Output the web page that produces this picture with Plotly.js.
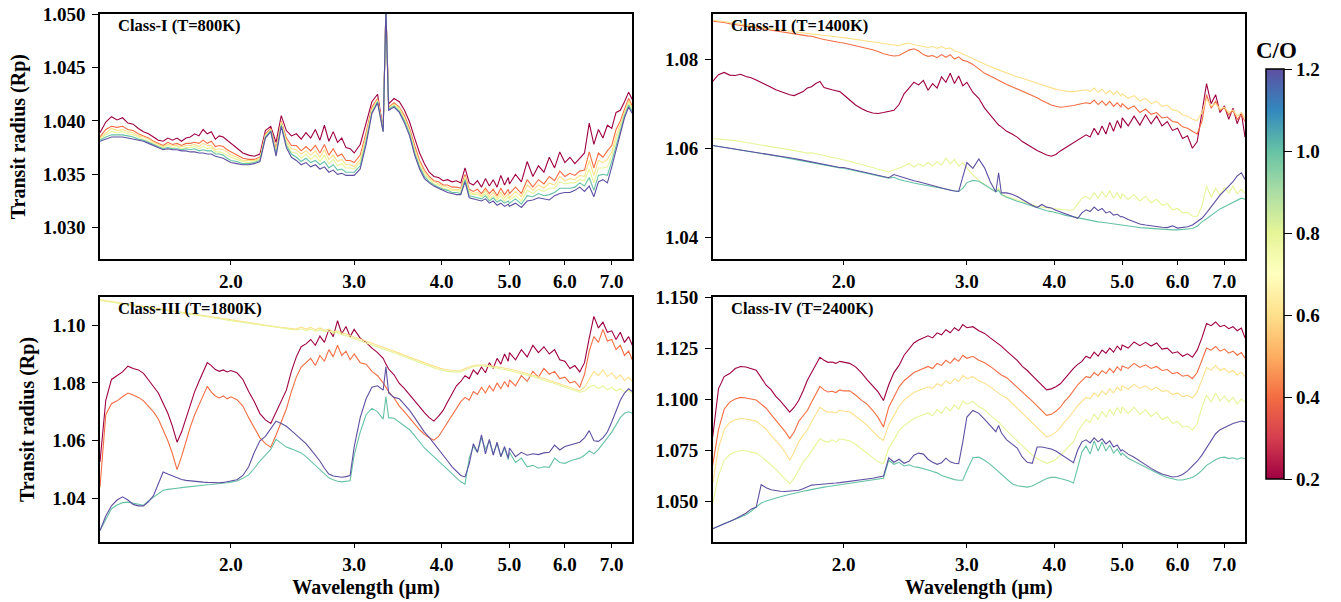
<!DOCTYPE html>
<html><head><meta charset="utf-8">
<script src="https://cdn.plot.ly/plotly-3.0.1.min.js"></script>
<style>html,body{margin:0;padding:0;background:#fff}#chart{width:1341px;height:602px}</style>
</head><body><div id="chart"></div>
<script>
// ---------------- data ----------------
const WAVELENGTH = [1.300,1.325,1.350,1.375,1.400,1.425,1.450,1.475,1.500,1.525,1.550,1.575,1.600,1.625,1.650,1.675,1.700,1.725,1.750,1.775,1.800,1.825,1.850,1.875,1.900,1.925,1.950,1.975,
 2.00,2.04,2.08,2.12,2.16,2.20,2.24,2.28,2.32,2.36,2.40,2.44,2.48,2.52,2.56,2.60,2.64,2.68,2.72,2.76,2.80,2.84,2.88,2.92,2.96,
 3.00,3.06,3.12,3.18,3.24,3.30,3.33,3.36,3.42,3.48,3.54,3.60,3.66,3.72,3.78,3.84,3.90,3.96,4.02,4.08,4.14,4.20,4.26,4.32,4.38,4.44,4.50,4.56,4.62,4.68,4.74,4.80,4.86,4.92,4.98,
 5.0,5.1,5.2,5.3,5.4,5.5,5.6,5.7,5.8,5.9,6.0,6.1,6.2,6.3,6.4,6.5,6.6,6.7,6.8,6.9,7.0,7.1,7.2,7.3,7.4,7.49];

const CO_RATIOS = [0.2, 0.4, 0.6, 0.8, 1.0, 1.2];
const CO_TICK_TEXT = ['0.2','0.4','0.6','0.8','1.0','1.2'];
const CO_COLORS = ['#9e0142','#f46d43','#fee08b','#e6f598','#66c2a5','#5e4fa2'];
const PANEL_TITLES = ['Class-I (T=800K)','Class-II (T=1400K)','Class-III (T=1800K)','Class-IV (T=2400K)'];
const WL_TICKS = [2, 3, 4, 5, 6, 7];
const WL_TICK_TEXT = ['2.0','3.0','4.0','5.0','6.0','7.0'];

// ---- Class-I (T=800K) ----
const C1_CO02 = [1.0389,1.0399,1.0404,1.0401,1.0403,1.0398,1.0397,1.0393,1.0390,1.0388,1.0385,1.0382,1.0381,1.0384,1.0382,1.0384,1.0381,1.0384,1.0385,1.0388,1.0386,1.0392,1.0388,1.0390,1.0383,1.0386,1.0385,1.0382,
 1.0379,1.0374,1.0370,1.0368,1.0367,1.0369,1.0391,1.0395,1.0380,1.0405,1.0391,1.0386,1.0388,1.0383,1.0389,1.0384,1.0392,1.0382,1.0396,1.0381,1.0390,1.0380,1.0384,1.0375,1.0374,
 1.0370,1.0378,1.0398,1.0418,1.0425,1.0392,1.0505,1.0416,1.0421,1.0418,1.0410,1.0399,1.0384,1.0370,1.0360,1.0352,1.0348,1.0347,1.0344,1.0345,1.0343,1.0344,1.0342,1.0356,1.0342,1.0340,1.0344,1.0338,1.0346,1.0339,1.0345,1.0338,1.0349,1.0340,1.0347,
 1.0341,1.0350,1.0343,1.0362,1.0348,1.0358,1.0352,1.0366,1.0356,1.0371,1.0361,1.0366,1.0360,1.0365,1.0370,1.0398,1.0378,1.0392,1.0384,1.0396,1.0393,1.0408,1.0410,1.0418,1.0427,1.0420];
const C1_CO04 = [1.0385,1.0392,1.0395,1.0394,1.0395,1.0392,1.0391,1.0388,1.0386,1.0384,1.0381,1.0379,1.0377,1.0380,1.0378,1.0379,1.0377,1.0379,1.0379,1.0380,1.0379,1.0382,1.0379,1.0381,1.0376,1.0377,1.0376,1.0373,
 1.0371,1.0368,1.0365,1.0364,1.0364,1.0366,1.0388,1.0393,1.0374,1.0400,1.0384,1.0377,1.0377,1.0372,1.0376,1.0372,1.0377,1.0370,1.0378,1.0368,1.0374,1.0367,1.0369,1.0363,1.0363,
 1.0361,1.0368,1.0389,1.0413,1.0421,1.0391,1.0505,1.0413,1.0417,1.0413,1.0405,1.0393,1.0377,1.0363,1.0354,1.0348,1.0344,1.0343,1.0340,1.0340,1.0338,1.0338,1.0337,1.0350,1.0336,1.0334,1.0336,1.0332,1.0337,1.0332,1.0336,1.0330,1.0337,1.0331,1.0336,
 1.0332,1.0338,1.0332,1.0345,1.0338,1.0345,1.0341,1.0348,1.0344,1.0353,1.0348,1.0351,1.0349,1.0353,1.0354,1.0371,1.0356,1.0370,1.0366,1.0372,1.0377,1.0392,1.0400,1.0411,1.0421,1.0414];
const C1_CO06 = [1.0384,1.0389,1.0393,1.0391,1.0392,1.0390,1.0389,1.0386,1.0385,1.0383,1.0380,1.0378,1.0376,1.0378,1.0377,1.0377,1.0376,1.0377,1.0377,1.0378,1.0376,1.0379,1.0377,1.0377,1.0373,1.0374,1.0373,1.0371,
 1.0368,1.0366,1.0363,1.0363,1.0363,1.0365,1.0387,1.0392,1.0372,1.0399,1.0381,1.0374,1.0373,1.0369,1.0372,1.0368,1.0372,1.0366,1.0373,1.0364,1.0368,1.0362,1.0364,1.0359,1.0359,
 1.0357,1.0364,1.0386,1.0411,1.0420,1.0391,1.0505,1.0412,1.0416,1.0412,1.0403,1.0391,1.0374,1.0361,1.0352,1.0346,1.0343,1.0341,1.0339,1.0338,1.0336,1.0336,1.0335,1.0348,1.0334,1.0332,1.0333,1.0330,1.0335,1.0329,1.0333,1.0328,1.0333,1.0328,1.0332,
 1.0328,1.0334,1.0329,1.0340,1.0335,1.0340,1.0337,1.0342,1.0340,1.0348,1.0344,1.0346,1.0345,1.0349,1.0348,1.0363,1.0349,1.0363,1.0361,1.0364,1.0371,1.0386,1.0397,1.0409,1.0419,1.0412];
const C1_CO08 = [1.0383,1.0387,1.0390,1.0389,1.0390,1.0388,1.0387,1.0385,1.0383,1.0381,1.0379,1.0377,1.0375,1.0377,1.0375,1.0376,1.0374,1.0375,1.0375,1.0376,1.0374,1.0376,1.0374,1.0375,1.0371,1.0371,1.0370,1.0368,
 1.0366,1.0364,1.0362,1.0361,1.0362,1.0364,1.0386,1.0391,1.0370,1.0398,1.0379,1.0371,1.0370,1.0365,1.0369,1.0364,1.0368,1.0362,1.0368,1.0360,1.0364,1.0358,1.0360,1.0356,1.0356,
 1.0355,1.0361,1.0383,1.0410,1.0419,1.0391,1.0505,1.0412,1.0415,1.0411,1.0401,1.0390,1.0372,1.0359,1.0350,1.0345,1.0341,1.0340,1.0337,1.0336,1.0335,1.0335,1.0334,1.0347,1.0332,1.0331,1.0331,1.0329,1.0332,1.0327,1.0330,1.0326,1.0330,1.0325,1.0329,
 1.0326,1.0330,1.0325,1.0335,1.0332,1.0336,1.0334,1.0337,1.0337,1.0343,1.0341,1.0342,1.0342,1.0345,1.0344,1.0355,1.0342,1.0356,1.0356,1.0357,1.0367,1.0382,1.0394,1.0407,1.0417,1.0411];
const C1_CO10 = [1.0382,1.0385,1.0387,1.0387,1.0387,1.0386,1.0385,1.0383,1.0382,1.0380,1.0378,1.0376,1.0374,1.0375,1.0374,1.0374,1.0373,1.0374,1.0373,1.0374,1.0372,1.0373,1.0372,1.0372,1.0369,1.0369,1.0368,1.0365,
 1.0363,1.0362,1.0360,1.0360,1.0361,1.0363,1.0385,1.0391,1.0369,1.0396,1.0377,1.0369,1.0366,1.0362,1.0365,1.0361,1.0363,1.0359,1.0362,1.0356,1.0359,1.0354,1.0355,1.0352,1.0352,
 1.0352,1.0358,1.0381,1.0408,1.0418,1.0390,1.0505,1.0411,1.0414,1.0409,1.0400,1.0388,1.0370,1.0357,1.0348,1.0343,1.0340,1.0338,1.0336,1.0335,1.0333,1.0333,1.0332,1.0345,1.0330,1.0329,1.0328,1.0327,1.0330,1.0325,1.0328,1.0324,1.0326,1.0323,1.0325,
 1.0323,1.0327,1.0322,1.0330,1.0329,1.0332,1.0330,1.0331,1.0333,1.0337,1.0337,1.0337,1.0338,1.0342,1.0339,1.0347,1.0335,1.0349,1.0350,1.0349,1.0362,1.0377,1.0391,1.0405,1.0415,1.0409];
const C1_CO12 = [1.0381,1.0383,1.0385,1.0385,1.0385,1.0384,1.0383,1.0382,1.0381,1.0379,1.0377,1.0375,1.0373,1.0374,1.0373,1.0373,1.0372,1.0372,1.0371,1.0371,1.0370,1.0370,1.0369,1.0369,1.0367,1.0366,1.0365,1.0363,
 1.0361,1.0360,1.0359,1.0359,1.0360,1.0362,1.0384,1.0390,1.0367,1.0395,1.0375,1.0366,1.0363,1.0359,1.0361,1.0357,1.0359,1.0355,1.0357,1.0352,1.0354,1.0350,1.0351,1.0349,1.0349,
 1.0349,1.0355,1.0378,1.0407,1.0417,1.0390,1.0505,1.0410,1.0413,1.0408,1.0398,1.0386,1.0368,1.0355,1.0346,1.0342,1.0339,1.0337,1.0335,1.0333,1.0332,1.0331,1.0331,1.0343,1.0328,1.0327,1.0326,1.0325,1.0327,1.0323,1.0325,1.0321,1.0323,1.0320,1.0322,
 1.0320,1.0323,1.0319,1.0325,1.0326,1.0328,1.0327,1.0326,1.0330,1.0332,1.0333,1.0333,1.0335,1.0338,1.0334,1.0339,1.0329,1.0343,1.0345,1.0342,1.0357,1.0372,1.0388,1.0403,1.0413,1.0407];

// ---- Class-II (T=1400K) ----
const C2_CO02 = [1.0750,1.0765,1.0770,1.0764,1.0763,1.0766,1.0761,1.0758,1.0753,1.0748,1.0742,1.0737,1.0731,1.0727,1.0723,1.0720,1.0718,1.0722,1.0727,1.0735,1.0738,1.0745,1.0750,1.0736,1.0733,1.0731,1.0729,1.0727,
 1.0720,1.0708,1.0697,1.0689,1.0683,1.0679,1.0678,1.0680,1.0682,1.0685,1.0698,1.0722,1.0735,1.0748,1.0742,1.0752,1.0730,1.0745,1.0735,1.0760,1.0748,1.0768,1.0745,1.0762,1.0740,
 1.0748,1.0725,1.0712,1.0690,1.0675,1.0660,1.0652,1.0648,1.0638,1.0632,1.0625,1.0615,1.0608,1.0601,1.0595,1.0590,1.0585,1.0582,1.0586,1.0594,1.0600,1.0607,1.0612,1.0618,1.0624,1.0630,1.0625,1.0645,1.0630,1.0650,1.0632,1.0658,1.0638,1.0662,1.0645,
 1.0668,1.0650,1.0672,1.0652,1.0675,1.0655,1.0672,1.0650,1.0660,1.0640,1.0645,1.0622,1.0628,1.0600,1.0615,1.0680,1.0745,1.0700,1.0720,1.0680,1.0695,1.0665,1.0690,1.0655,1.0680,1.0625];
const C2_CO04 = [1.0885,1.0884,1.0882,1.0879,1.0877,1.0875,1.0873,1.0872,1.0870,1.0868,1.0866,1.0864,1.0862,1.0861,1.0859,1.0858,1.0856,1.0855,1.0853,1.0852,1.0851,1.0848,1.0846,1.0844,1.0842,1.0840,1.0839,1.0837,
 1.0836,1.0833,1.0830,1.0827,1.0824,1.0821,1.0817,1.0812,1.0809,1.0807,1.0808,1.0815,1.0820,1.0823,1.0818,1.0810,1.0806,1.0808,1.0803,1.0810,1.0804,1.0810,1.0800,1.0805,1.0797,
 1.0795,1.0788,1.0778,1.0768,1.0762,1.0755,1.0752,1.0750,1.0743,1.0738,1.0733,1.0727,1.0722,1.0718,1.0713,1.0707,1.0701,1.0697,1.0694,1.0692,1.0693,1.0694,1.0696,1.0698,1.0700,1.0702,1.0700,1.0708,1.0698,1.0706,1.0696,1.0705,1.0694,1.0702,1.0692,
 1.0700,1.0688,1.0695,1.0680,1.0688,1.0676,1.0680,1.0668,1.0670,1.0660,1.0658,1.0648,1.0645,1.0638,1.0632,1.0660,1.0720,1.0690,1.0705,1.0685,1.0690,1.0675,1.0685,1.0665,1.0675,1.0660];
const C2_CO06 = [1.0887,1.0886,1.0884,1.0882,1.0880,1.0878,1.0877,1.0875,1.0873,1.0872,1.0870,1.0868,1.0867,1.0866,1.0864,1.0863,1.0861,1.0860,1.0859,1.0858,1.0857,1.0856,1.0855,1.0853,1.0852,1.0851,1.0850,1.0849,
 1.0848,1.0846,1.0844,1.0842,1.0840,1.0838,1.0836,1.0834,1.0832,1.0831,1.0830,1.0834,1.0836,1.0832,1.0830,1.0828,1.0826,1.0828,1.0824,1.0828,1.0823,1.0825,1.0818,1.0816,1.0812,
 1.0808,1.0802,1.0795,1.0789,1.0783,1.0778,1.0775,1.0773,1.0768,1.0764,1.0760,1.0757,1.0753,1.0749,1.0746,1.0742,1.0738,1.0735,1.0732,1.0730,1.0728,1.0727,1.0727,1.0728,1.0729,1.0731,1.0727,1.0735,1.0725,1.0733,1.0722,1.0730,1.0720,1.0728,1.0717,
 1.0722,1.0712,1.0718,1.0706,1.0712,1.0700,1.0705,1.0694,1.0697,1.0686,1.0684,1.0675,1.0672,1.0665,1.0662,1.0680,1.0710,1.0695,1.0700,1.0688,1.0692,1.0680,1.0686,1.0672,1.0680,1.0668];
const C2_CO08 = [1.0622,1.0621,1.0619,1.0618,1.0617,1.0615,1.0613,1.0611,1.0610,1.0608,1.0606,1.0605,1.0603,1.0601,1.0599,1.0597,1.0595,1.0593,1.0591,1.0589,1.0590,1.0588,1.0585,1.0583,1.0581,1.0579,1.0577,1.0576,
 1.0574,1.0571,1.0567,1.0564,1.0560,1.0557,1.0553,1.0550,1.0547,1.0552,1.0555,1.0560,1.0566,1.0558,1.0565,1.0560,1.0568,1.0560,1.0570,1.0562,1.0578,1.0565,1.0575,1.0560,1.0568,
 1.0556,1.0540,1.0528,1.0518,1.0510,1.0502,1.0510,1.0498,1.0492,1.0488,1.0484,1.0480,1.0476,1.0473,1.0470,1.0468,1.0466,1.0465,1.0464,1.0463,1.0462,1.0461,1.0462,1.0475,1.0488,1.0492,1.0485,1.0500,1.0488,1.0503,1.0490,1.0505,1.0488,1.0500,1.0486,
 1.0498,1.0485,1.0496,1.0482,1.0492,1.0478,1.0486,1.0472,1.0476,1.0462,1.0465,1.0455,1.0456,1.0448,1.0447,1.0470,1.0515,1.0490,1.0510,1.0495,1.0512,1.0500,1.0515,1.0498,1.0508,1.0499];
const C2_CO10 = [1.0606,1.0604,1.0602,1.0600,1.0598,1.0596,1.0594,1.0592,1.0590,1.0588,1.0586,1.0585,1.0583,1.0581,1.0579,1.0577,1.0575,1.0573,1.0571,1.0569,1.0567,1.0565,1.0564,1.0562,1.0560,1.0558,1.0557,1.0556,
 1.0555,1.0552,1.0549,1.0546,1.0543,1.0540,1.0537,1.0535,1.0533,1.0535,1.0530,1.0527,1.0524,1.0522,1.0520,1.0518,1.0516,1.0514,1.0512,1.0510,1.0508,1.0506,1.0504,1.0503,1.0510,
 1.0523,1.0528,1.0526,1.0518,1.0510,1.0502,1.0506,1.0496,1.0490,1.0485,1.0481,1.0478,1.0474,1.0470,1.0466,1.0463,1.0460,1.0458,1.0456,1.0453,1.0450,1.0448,1.0445,1.0443,1.0441,1.0440,1.0438,1.0437,1.0435,1.0434,1.0433,1.0432,1.0430,1.0429,1.0428,
 1.0428,1.0426,1.0424,1.0422,1.0421,1.0420,1.0419,1.0418,1.0417,1.0417,1.0417,1.0418,1.0419,1.0420,1.0425,1.0435,1.0442,1.0450,1.0458,1.0464,1.0469,1.0474,1.0480,1.0484,1.0488,1.0486];
const C2_CO12 = [1.0606,1.0604,1.0603,1.0601,1.0599,1.0597,1.0595,1.0593,1.0591,1.0589,1.0587,1.0586,1.0585,1.0583,1.0581,1.0579,1.0577,1.0575,1.0573,1.0571,1.0569,1.0567,1.0565,1.0563,1.0561,1.0559,1.0558,1.0557,
 1.0557,1.0554,1.0551,1.0548,1.0545,1.0542,1.0539,1.0536,1.0534,1.0541,1.0537,1.0533,1.0530,1.0527,1.0525,1.0522,1.0519,1.0516,1.0513,1.0511,1.0508,1.0506,1.0504,1.0503,1.0536,
 1.0568,1.0555,1.0576,1.0556,1.0525,1.0502,1.0545,1.0500,1.0500,1.0497,1.0492,1.0485,1.0478,1.0472,1.0467,1.0474,1.0468,1.0466,1.0461,1.0457,1.0453,1.0449,1.0445,1.0443,1.0455,1.0462,1.0458,1.0468,1.0460,1.0465,1.0455,1.0458,1.0450,1.0452,1.0446,
 1.0447,1.0440,1.0435,1.0430,1.0428,1.0426,1.0425,1.0423,1.0422,1.0426,1.0421,1.0422,1.0424,1.0428,1.0435,1.0443,1.0455,1.0469,1.0482,1.0495,1.0505,1.0514,1.0525,1.0538,1.0545,1.0530];

// ---- Class-III (T=1800K) ----
const C3_CO02 = [1.0527,1.0740,1.0812,1.0825,1.0838,1.0858,1.0850,1.0845,1.0833,1.0810,1.0788,1.0765,1.0730,1.0695,1.0650,1.0595,1.0630,1.0675,1.0720,1.0770,1.0805,1.0840,1.0870,1.0860,1.0846,1.0840,1.0845,1.0838,
 1.0843,1.0835,1.0812,1.0770,1.0735,1.0694,1.0672,1.0660,1.0700,1.0740,1.0775,1.0840,1.0890,1.0925,1.0935,1.0950,1.0930,1.0962,1.0940,1.0985,1.0960,1.1015,1.0970,1.0995,1.0960,
 1.0985,1.0955,1.0940,1.0920,1.0905,1.0885,1.0865,1.0848,1.0828,1.0798,1.0780,1.0758,1.0740,1.0715,1.0697,1.0680,1.0668,1.0685,1.0705,1.0735,1.0765,1.0790,1.0805,1.0825,1.0815,1.0845,1.0830,1.0855,1.0835,1.0870,1.0850,1.0885,1.0865,1.0900,1.0875,
 1.0905,1.0880,1.0915,1.0890,1.0930,1.0905,1.0925,1.0900,1.0915,1.0880,1.0875,1.0850,1.0860,1.0838,1.0870,1.0955,1.1030,1.0990,1.1010,1.0975,1.0980,1.0950,1.0975,1.0940,1.0960,1.0930];
const C3_CO04 = [1.0440,1.0690,1.0728,1.0738,1.0752,1.0765,1.0758,1.0750,1.0738,1.0720,1.0700,1.0675,1.0640,1.0600,1.0555,1.0500,1.0545,1.0600,1.0648,1.0690,1.0725,1.0760,1.0788,1.0768,1.0755,1.0748,1.0755,1.0745,
 1.0752,1.0742,1.0720,1.0680,1.0645,1.0610,1.0590,1.0578,1.0620,1.0665,1.0710,1.0770,1.0820,1.0855,1.0870,1.0885,1.0860,1.0895,1.0875,1.0915,1.0890,1.0930,1.0895,1.0910,1.0880,
 1.0900,1.0870,1.0865,1.0840,1.0825,1.0800,1.0785,1.0770,1.0748,1.0720,1.0700,1.0678,1.0660,1.0638,1.0622,1.0610,1.0602,1.0615,1.0640,1.0665,1.0690,1.0715,1.0735,1.0750,1.0740,1.0770,1.0760,1.0785,1.0765,1.0790,1.0772,1.0800,1.0780,1.0805,1.0785,
 1.0810,1.0790,1.0825,1.0805,1.0840,1.0820,1.0850,1.0830,1.0840,1.0815,1.0820,1.0800,1.0805,1.0785,1.0830,1.0910,1.0960,1.0940,1.0985,1.0945,1.0950,1.0915,1.0930,1.0895,1.0910,1.0880];
const C3_CO06 = [1.1087,1.1084,1.1081,1.1078,1.1075,1.1073,1.1070,1.1068,1.1065,1.1063,1.1060,1.1058,1.1055,1.1053,1.1050,1.1048,1.1045,1.1043,1.1041,1.1038,1.1036,1.1034,1.1032,1.1029,1.1027,1.1025,1.1023,1.1020,
 1.1018,1.1015,1.1012,1.1009,1.1006,1.1003,1.1000,1.0997,1.0994,1.0992,1.0990,1.0988,1.0986,1.0993,1.0986,1.0992,1.0984,1.0990,1.0982,1.0986,1.0977,1.0980,1.0972,1.0970,1.0963,
 1.0958,1.0952,1.0945,1.0938,1.0931,1.0924,1.0921,1.0917,1.0910,1.0903,1.0896,1.0889,1.0882,1.0876,1.0869,1.0863,1.0857,1.0852,1.0848,1.0845,1.0843,1.0842,1.0843,1.0850,1.0855,1.0860,1.0862,1.0863,1.0862,1.0860,1.0858,1.0856,1.0854,1.0851,1.0849,
 1.0848,1.0843,1.0838,1.0833,1.0827,1.0821,1.0815,1.0809,1.0803,1.0797,1.0791,1.0785,1.0779,1.0773,1.0785,1.0815,1.0840,1.0825,1.0845,1.0822,1.0835,1.0815,1.0828,1.0808,1.0820,1.0805];
const C3_CO08 = [1.1085,1.1082,1.1079,1.1076,1.1073,1.1070,1.1068,1.1065,1.1063,1.1060,1.1058,1.1055,1.1053,1.1050,1.1048,1.1045,1.1043,1.1040,1.1038,1.1036,1.1033,1.1031,1.1029,1.1026,1.1024,1.1022,1.1020,1.1017,
 1.1015,1.1012,1.1009,1.1006,1.1003,1.1000,1.0997,1.0994,1.0991,1.0989,1.0987,1.0985,1.0983,1.0987,1.0981,1.0986,1.0979,1.0984,1.0977,1.0980,1.0972,1.0974,1.0967,1.0964,1.0958,
 1.0953,1.0947,1.0940,1.0933,1.0926,1.0919,1.0916,1.0912,1.0905,1.0898,1.0891,1.0884,1.0877,1.0871,1.0864,1.0858,1.0852,1.0847,1.0843,1.0840,1.0838,1.0837,1.0838,1.0845,1.0852,1.0856,1.0858,1.0860,1.0857,1.0858,1.0853,1.0852,1.0848,1.0847,1.0843,
 1.0843,1.0837,1.0833,1.0827,1.0822,1.0815,1.0810,1.0803,1.0798,1.0791,1.0786,1.0779,1.0774,1.0768,1.0772,1.0785,1.0792,1.0780,1.0790,1.0776,1.0785,1.0772,1.0780,1.0768,1.0775,1.0762];
const C3_CO10 = [1.0290,1.0330,1.0365,1.0378,1.0386,1.0388,1.0385,1.0380,1.0377,1.0392,1.0405,1.0418,1.0429,1.0432,1.0433,1.0436,1.0438,1.0440,1.0443,1.0445,1.0446,1.0447,1.0448,1.0449,1.0450,1.0451,1.0453,1.0455,
 1.0457,1.0461,1.0470,1.0482,1.0505,1.0530,1.0550,1.0570,1.0605,1.0590,1.0578,1.0572,1.0566,1.0558,1.0545,1.0530,1.0515,1.0500,1.0485,1.0472,1.0465,1.0460,1.0458,1.0460,1.0462,
 1.0550,1.0630,1.0690,1.0712,1.0700,1.0675,1.0752,1.0680,1.0678,1.0665,1.0650,1.0638,1.0618,1.0598,1.0575,1.0560,1.0545,1.0530,1.0515,1.0500,1.0485,1.0470,1.0458,1.0450,1.0540,1.0580,1.0560,1.0610,1.0570,1.0600,1.0555,1.0590,1.0545,1.0575,1.0535,
 1.0560,1.0525,1.0540,1.0510,1.0515,1.0505,1.0510,1.0508,1.0540,1.0525,1.0522,1.0530,1.0535,1.0540,1.0550,1.0565,1.0555,1.0570,1.0590,1.0610,1.0630,1.0655,1.0680,1.0695,1.0700,1.0695];
const C3_CO12 = [1.0290,1.0340,1.0375,1.0395,1.0406,1.0395,1.0380,1.0375,1.0375,1.0390,1.0410,1.0450,1.0492,1.0485,1.0478,1.0470,1.0466,1.0463,1.0461,1.0460,1.0458,1.0457,1.0456,1.0455,1.0455,1.0455,1.0456,1.0458,
 1.0460,1.0465,1.0480,1.0510,1.0560,1.0600,1.0615,1.0640,1.0668,1.0660,1.0650,1.0635,1.0620,1.0605,1.0590,1.0570,1.0550,1.0530,1.0505,1.0485,1.0478,1.0475,1.0474,1.0476,1.0480,
 1.0579,1.0680,1.0745,1.0785,1.0790,1.0775,1.0856,1.0765,1.0750,1.0745,1.0725,1.0705,1.0680,1.0655,1.0630,1.0612,1.0590,1.0570,1.0550,1.0530,1.0510,1.0495,1.0480,1.0475,1.0520,1.0590,1.0560,1.0620,1.0555,1.0605,1.0550,1.0595,1.0545,1.0580,1.0540,
 1.0575,1.0545,1.0560,1.0550,1.0555,1.0552,1.0558,1.0560,1.0585,1.0568,1.0580,1.0585,1.0590,1.0595,1.0610,1.0635,1.0600,1.0598,1.0610,1.0630,1.0665,1.0700,1.0740,1.0765,1.0780,1.0770];

// ---- Class-IV (T=2400K) ----
const C4_CO02 = [1.0814,1.1050,1.1110,1.1125,1.1150,1.1160,1.1157,1.1150,1.1141,1.1105,1.1068,1.1046,1.1013,1.0990,1.0962,1.0936,1.0960,1.0993,1.1040,1.1092,1.1130,1.1165,1.1205,1.1190,1.1180,1.1182,1.1175,1.1185,
 1.1180,1.1175,1.1158,1.1130,1.1095,1.1065,1.1035,1.0993,1.1070,1.1130,1.1165,1.1215,1.1245,1.1275,1.1290,1.1300,1.1310,1.1300,1.1325,1.1315,1.1340,1.1325,1.1350,1.1335,1.1365,
 1.1350,1.1355,1.1335,1.1322,1.1300,1.1280,1.1271,1.1260,1.1235,1.1212,1.1190,1.1160,1.1140,1.1115,1.1092,1.1068,1.1045,1.1050,1.1060,1.1075,1.1100,1.1130,1.1150,1.1170,1.1185,1.1210,1.1200,1.1230,1.1210,1.1240,1.1225,1.1250,1.1230,1.1260,1.1240,
 1.1265,1.1250,1.1280,1.1262,1.1278,1.1260,1.1275,1.1245,1.1250,1.1225,1.1232,1.1210,1.1222,1.1205,1.1240,1.1300,1.1370,1.1360,1.1378,1.1355,1.1362,1.1345,1.1355,1.1335,1.1348,1.1300];
const C4_CO04 = [1.0675,1.0850,1.0950,1.0985,1.1000,1.1008,1.1005,1.1000,1.0995,1.0975,1.0955,1.0925,1.0895,1.0870,1.0840,1.0806,1.0840,1.0890,1.0920,1.0944,1.0985,1.1025,1.1062,1.1045,1.1035,1.1038,1.1032,1.1045,
 1.1040,1.1040,1.1020,1.0995,1.0975,1.0945,1.0910,1.0863,1.0960,1.1010,1.1060,1.1090,1.1110,1.1130,1.1140,1.1150,1.1160,1.1150,1.1175,1.1165,1.1190,1.1175,1.1200,1.1185,1.1215,
 1.1200,1.1210,1.1190,1.1178,1.1160,1.1140,1.1130,1.1118,1.1105,1.1080,1.1060,1.1035,1.1012,1.0990,1.0965,1.0940,1.0920,1.0925,1.0940,1.0960,1.0990,1.1012,1.1040,1.1070,1.1090,1.1110,1.1105,1.1130,1.1115,1.1140,1.1125,1.1150,1.1130,1.1158,1.1140,
 1.1162,1.1150,1.1175,1.1155,1.1168,1.1150,1.1160,1.1140,1.1145,1.1125,1.1130,1.1112,1.1118,1.1100,1.1130,1.1190,1.1250,1.1240,1.1258,1.1235,1.1245,1.1225,1.1235,1.1215,1.1228,1.1200];
const C4_CO06 = [1.0585,1.0760,1.0850,1.0885,1.0898,1.0905,1.0902,1.0897,1.0892,1.0872,1.0852,1.0822,1.0795,1.0770,1.0738,1.0700,1.0740,1.0790,1.0822,1.0848,1.0888,1.0925,1.0960,1.0945,1.0935,1.0938,1.0932,1.0945,
 1.0940,1.0938,1.0918,1.0895,1.0872,1.0845,1.0815,1.0797,1.0875,1.0920,1.0965,1.0995,1.1015,1.1032,1.1042,1.1052,1.1060,1.1052,1.1075,1.1065,1.1090,1.1075,1.1100,1.1085,1.1115,
 1.1100,1.1110,1.1090,1.1078,1.1060,1.1040,1.1030,1.1018,1.1005,1.0980,1.0958,1.0932,1.0908,1.0885,1.0862,1.0838,1.0815,1.0822,1.0838,1.0860,1.0890,1.0912,1.0940,1.0968,1.0988,1.1008,1.1002,1.1030,1.1012,1.1040,1.1022,1.1050,1.1030,1.1058,1.1040,
 1.1065,1.1048,1.1072,1.1052,1.1065,1.1045,1.1058,1.1038,1.1042,1.1022,1.1030,1.1012,1.1018,1.1005,1.1035,1.1095,1.1155,1.1142,1.1165,1.1140,1.1150,1.1130,1.1140,1.1118,1.1132,1.1110];
const C4_CO08 = [1.0487,1.0625,1.0700,1.0728,1.0740,1.0748,1.0745,1.0740,1.0735,1.0718,1.0700,1.0678,1.0655,1.0632,1.0608,1.0585,1.0612,1.0655,1.0690,1.0715,1.0745,1.0775,1.0805,1.0795,1.0788,1.0800,1.0790,1.0805,
 1.0800,1.0795,1.0778,1.0755,1.0732,1.0710,1.0692,1.0683,1.0760,1.0800,1.0845,1.0870,1.0888,1.0905,1.0915,1.0922,1.0932,1.0918,1.0948,1.0930,1.0962,1.0942,1.0972,1.0950,1.0990,
 1.0975,1.0988,1.0962,1.0948,1.0920,1.0898,1.0888,1.0872,1.0848,1.0820,1.0795,1.0770,1.0745,1.0725,1.0708,1.0695,1.0685,1.0692,1.0705,1.0725,1.0745,1.0770,1.0790,1.0840,1.0870,1.0900,1.0885,1.0925,1.0900,1.0940,1.0912,1.0950,1.0922,1.0958,1.0928,
 1.0962,1.0930,1.0960,1.0925,1.0948,1.0915,1.0935,1.0900,1.0912,1.0880,1.0890,1.0862,1.0868,1.0848,1.0880,1.0960,1.1020,1.0985,1.1030,1.0990,1.1015,1.0985,1.1008,1.0975,1.1000,1.0985];
const C4_CO10 = [1.0364,1.0378,1.0390,1.0400,1.0410,1.0420,1.0432,1.0450,1.0470,1.0490,1.0500,1.0508,1.0515,1.0521,1.0527,1.0533,1.0538,1.0543,1.0548,1.0552,1.0557,1.0562,1.0565,1.0568,1.0571,1.0574,1.0577,1.0580,
 1.0583,1.0587,1.0592,1.0596,1.0600,1.0604,1.0608,1.0612,1.0700,1.0680,1.0690,1.0672,1.0678,1.0668,1.0665,1.0660,1.0652,1.0645,1.0638,1.0625,1.0618,1.0610,1.0605,1.0602,1.0602,
 1.0650,1.0712,1.0715,1.0700,1.0680,1.0655,1.0645,1.0630,1.0605,1.0585,1.0575,1.0570,1.0568,1.0574,1.0585,1.0598,1.0610,1.0616,1.0616,1.0610,1.0605,1.0598,1.0588,1.0660,1.0740,1.0770,1.0730,1.0795,1.0745,1.0790,1.0745,1.0775,1.0735,1.0755,1.0725,
 1.0735,1.0710,1.0695,1.0680,1.0665,1.0650,1.0638,1.0625,1.0615,1.0608,1.0603,1.0603,1.0608,1.0615,1.0630,1.0650,1.0675,1.0690,1.0702,1.0712,1.0715,1.0708,1.0712,1.0705,1.0712,1.0708];
const C4_CO12 = [1.0364,1.0375,1.0388,1.0400,1.0412,1.0425,1.0440,1.0460,1.0470,1.0580,1.0565,1.0555,1.0550,1.0548,1.0547,1.0548,1.0550,1.0553,1.0560,1.0568,1.0578,1.0580,1.0581,1.0582,1.0584,1.0586,1.0588,1.0590,
 1.0592,1.0596,1.0600,1.0604,1.0608,1.0612,1.0616,1.0622,1.0712,1.0690,1.0705,1.0685,1.0695,1.0725,1.0735,1.0730,1.0705,1.0690,1.0680,1.0688,1.0710,1.0692,1.0685,1.0683,1.0790,
 1.0912,1.0944,1.0930,1.0900,1.0870,1.0840,1.0870,1.0835,1.0800,1.0780,1.0760,1.0715,1.0690,1.0685,1.0765,1.0765,1.0760,1.0755,1.0745,1.0730,1.0715,1.0700,1.0688,1.0750,1.0790,1.0800,1.0785,1.0810,1.0790,1.0805,1.0780,1.0795,1.0765,1.0775,1.0745,
 1.0752,1.0730,1.0715,1.0695,1.0675,1.0660,1.0645,1.0632,1.0625,1.0618,1.0620,1.0630,1.0648,1.0670,1.0695,1.0725,1.0760,1.0800,1.0830,1.0850,1.0862,1.0870,1.0880,1.0885,1.0892,1.0888];

// ---------------- chart ----------------
const FONT = 'Liberation Serif, "Times New Roman", serif';
const SPECTRAL = [[0,'#9e0142'],[0.1,'#d53e4f'],[0.2,'#f46d43'],[0.3,'#fdae61'],[0.4,'#fee08b'],[0.5,'#ffffbf'],
  [0.6,'#e6f598'],[0.7,'#abdda4'],[0.8,'#66c2a5'],[0.9,'#3288bd'],[1,'#5e4fa2']];

const PANELS = [
  {xa:'x',  ya:'y',  series:[C1_CO02,C1_CO04,C1_CO06,C1_CO08,C1_CO10,C1_CO12]},
  {xa:'x2', ya:'y2', series:[C2_CO02,C2_CO04,C2_CO06,C2_CO08,C2_CO10,C2_CO12]},
  {xa:'x3', ya:'y3', series:[C3_CO02,C3_CO04,C3_CO06,C3_CO08,C3_CO10,C3_CO12]},
  {xa:'x4', ya:'y4', series:[C4_CO02,C4_CO04,C4_CO06,C4_CO08,C4_CO10,C4_CO12]}
];

const traces = [];
PANELS.forEach(p => {
  p.series.forEach((s, i) => {
    traces.push({type:'scatter', mode:'lines', x: WAVELENGTH, y: s, xaxis: p.xa, yaxis: p.ya,
      name: 'C/O=' + CO_TICK_TEXT[i], line:{color: CO_COLORS[i], width: 1.1},
      showlegend:false, hoverinfo:'x+y+name'});
  });
});
// colour bar carrier (points lie outside the visible range)
traces.push({type:'scatter', mode:'markers', x: CO_RATIOS.map(() => WAVELENGTH[0]), y: CO_RATIOS.map(() => 0),
  xaxis:'x', yaxis:'y', showlegend:false, hoverinfo:'skip',
  marker:{color: CO_RATIOS, colorscale: SPECTRAL, cmin:0.2, cmax:1.2, size:1, showscale:true,
    colorbar:{thickness:18, thicknessmode:'pixels', len:410, lenmode:'pixels',
      x:1.0183, xanchor:'left', xpad:0, y:0.507, yanchor:'middle', ypad:0,
      outlinewidth:1.5, outlinecolor:'#000', ticks:'outside', ticklen:8, tickwidth:1.3, tickcolor:'#000',
      tickvals: CO_RATIOS, ticktext: CO_TICK_TEXT,
      tickfont:{family:FONT, size:19, color:'#000', weight:'bold'}}}
});

const tickFont = {family:FONT, size:19, color:'#000', weight:'bold'};
const titleFont = {family:FONT, size:20, color:'#000', weight:'bold'};
function xAxis(domain, anchor, withTitle){
  const a = {domain, anchor, type:'log', range:[Math.log10(1.30), Math.log10(7.49)],
    tickvals: WL_TICKS, ticktext: WL_TICK_TEXT, tickfont: tickFont,
    showline:true, linecolor:'#000', linewidth:1.5, mirror:true, ticks:'outside', ticklen:4, tickwidth:1.3,
    tickcolor:'#000', showgrid:false, zeroline:false, fixedrange:true};
  if (withTitle) a.title = {text:'Wavelength (µm)', font: titleFont, standoff: 6};
  return a;
}
function yAxis(domain, anchor, range, ticks, fmt, withTitle){
  const a = {domain, anchor, range, tickvals: ticks, tickformat: fmt, tickfont: tickFont,
    showline:true, linecolor:'#000', linewidth:1.5, mirror:true, ticks:'outside', ticklen:6, tickwidth:1.3,
    tickcolor:'#000', showgrid:false, zeroline:false, fixedrange:true, ticklabelstandoff:3};
  if (withTitle) a.title = {text:'Transit radius (Rp)', font: titleFont, standoff: 12};
  return a;
}

const XL = [0, 0.4649], XR = [0.5351, 1], YT = [0.5354, 1], YB = [0, 0.4640];
const annotations = PANEL_TITLES.map((t, i) => ({
  text: t, xref: (i ? 'x' + (i + 1) : 'x') + ' domain', yref: (i ? 'y' + (i + 1) : 'y') + ' domain',
  x: 0.03, y: 0.952, xanchor:'left', yanchor:'middle', showarrow:false,
  font:{family:FONT, size:16.5, color:'#000', weight:'bold'}
}));
// colour bar title
annotations.push({text:'C/O', xref:'paper', yref:'paper', x:1.0271, y:0.930, xanchor:'center', yanchor:'middle',
  showarrow:false, font:{family:FONT, size:23, color:'#000', weight:'bold'}});

const layout = {
  width:1341, height:602, paper_bgcolor:'#fff', plot_bgcolor:'#fff',
  margin:{l:100, r:96, t:14, b:60, autoexpand:false},
  font:{family:FONT, color:'#000'},
  showlegend:false,
  xaxis:  xAxis(XL, 'y',  false),
  yaxis:  yAxis(YT, 'x',  [1.02704, 1.05002], [1.030,1.035,1.040,1.045,1.050], '.3f', true),
  xaxis2: xAxis(XR, 'y2', false),
  yaxis2: yAxis(YT, 'x2', [1.0351, 1.0901], [1.04,1.06,1.08], '.2f', false),
  xaxis3: xAxis(XL, 'y3', true),
  yaxis3: yAxis(YB, 'x3', [1.0250, 1.1097], [1.04,1.06,1.08,1.10], '.2f', true),
  xaxis4: xAxis(XR, 'y4', true),
  yaxis4: yAxis(YB, 'x4', [1.0299, 1.15005], [1.050,1.075,1.100,1.125,1.150], '.3f', false),
  annotations
};

Plotly.newPlot('chart', traces, layout, {displayModeBar:false, staticPlot:false, responsive:false});
</script>
</body></html>
